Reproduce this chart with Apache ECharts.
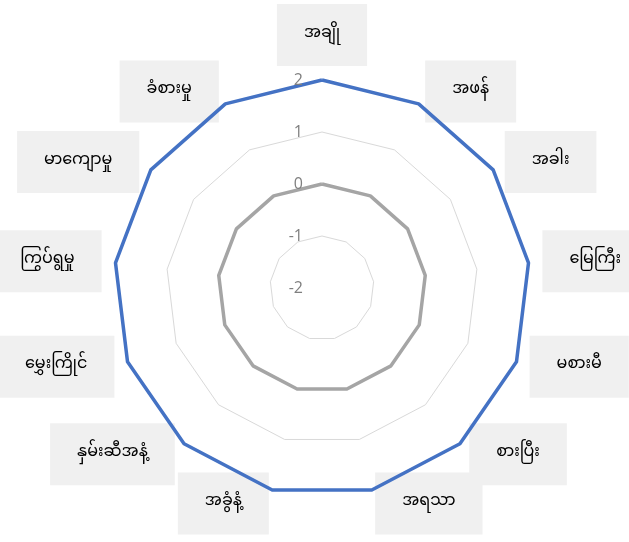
<!DOCTYPE html>
<html>
<head>
<meta charset="utf-8">
<script src="https://cdn.jsdelivr.net/npm/echarts@6/dist/echarts.min.js"></script>
<style>
  html, body { margin: 0; padding: 0; background: #fff; }
  #chart { width: 629px; height: 542px; }
</style>
</head>
<body>
<div id="chart"></div>
<script>
// 指标名称（顺时针，从正上方开始）
const categories = [
  'အချို', 'အဖန်', 'အခါး', 'မြေကြီး', 'မစားမီ', 'စားပြီး', 'အရသာ',
  'အခွံနံ့', 'နှမ်းဆီအနံ့', 'မွှေးကြိုင်', 'ကြွပ်ရွမှု', 'မာကျောမှု', 'ခံစားမှု'
]
const blueValues = [2, 2, 2, 2, 2, 2, 2, 2, 2, 2, 2, 2, 2]
const grayValues = [0, 0, 0, 0, 0, 0, 0, 0, 0, 0, 0, 0, 0]
const tickLabels = ['-2', '-1', '0', '1', '2']

const center = [322, 288]
const radius = 208

// echarts 雷达图是逆时针排列，这里把第一个之后的顺序反过来，变成顺时针
const clockwise = (arr) => [arr[0]].concat(arr.slice(1).reverse())

const myChart = echarts.init(document.getElementById('chart'))

const options = {
  backgroundColor: '#fff',
  animation: false,
  radar: {
    center: center,
    radius: radius,
    startAngle: 90,
    shape: 'polygon',
    splitNumber: tickLabels.length - 1,
    nameGap: 14,
    indicator: clockwise(categories).map((name) => ({ name, min: -2, max: 2 })),
    axisName: {
      color: '#000',
      fontSize: 16,
      fontFamily: '"Noto Sans Myanmar", Padauk, "Myanmar Text", sans-serif',
      backgroundColor: '#f0f0f0',
      padding: [23, 27]
    },
    axisLine: { show: false },
    axisTick: { show: false },
    splitArea: { show: false },
    splitLine: {
      lineStyle: { color: '#d9d9d9', width: 1 }
    }
  },
  // 刻度标签只放在最上面那条轴上
  polar: {
    center: center,
    radius: radius
  },
  angleAxis: {
    show: false,
    startAngle: 90,
    min: 0,
    max: 360
  },
  radiusAxis: {
    min: -2,
    max: 2,
    interval: 1,
    axisLine: { show: false },
    axisTick: { show: false },
    splitLine: { show: false },
    axisLabel: {
      color: '#7f7f7f',
      fontSize: 16,
      margin: 19,
      fontFamily: '"Open Sans", sans-serif',
      formatter: (v) => tickLabels[v + 2]
    },
    z: 10
  },
  series: [
    {
      type: 'radar',
      symbol: 'none',
      z: 3,
      lineStyle: { color: '#4472c4', width: 3.5 },
      data: [{ value: clockwise(blueValues), name: 'blue' }]
    },
    {
      type: 'radar',
      symbol: 'none',
      z: 2,
      lineStyle: { color: '#a5a5a5', width: 3.5 },
      data: [{ value: clockwise(grayValues), name: 'gray' }]
    }
  ]
}

myChart.setOption(options, true)
</script>
</body>
</html>
